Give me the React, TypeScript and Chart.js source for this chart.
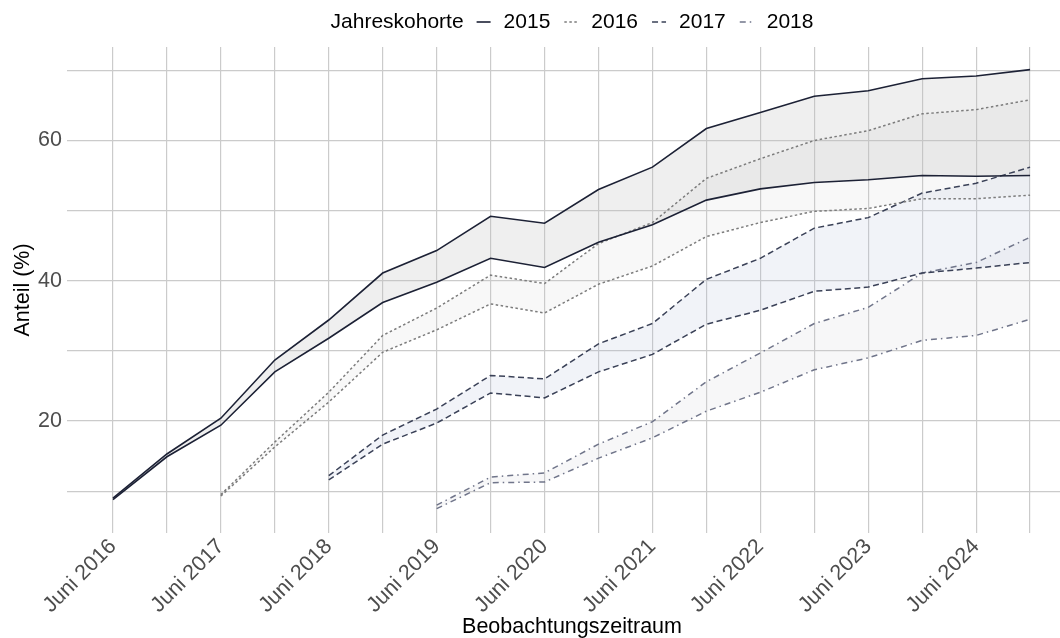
import React, { useEffect, useRef } from "react";
import { Chart, registerables } from "chart.js";

Chart.register(...registerables);

const FONT = '"Liberation Sans", Arial, Helvetica, sans-serif';

// Half-year observation points: index 0 = Juni 2016 ... 17 = Dezember 2024
const xTickLabels = [
  "Juni 2016", "", "Juni 2017", "", "Juni 2018", "", "Juni 2019", "",
  "Juni 2020", "", "Juni 2021", "", "Juni 2022", "", "Juni 2023", "",
  "Juni 2024", "",
];
const yTickLabels = [20, 40, 60];

const cohorts = ["2015", "2016", "2017", "2018"];

const upper2015 = [9.0, 15.3, 20.4, 28.7, 34.4, 41.1, 44.3, 49.2, 48.2, 53.0, 56.2, 61.7, 64.0, 66.3, 67.1, 68.8, 69.2, 70.1];
const lower2015 = [8.8, 14.9, 19.4, 27.0, 31.8, 36.9, 39.8, 43.2, 41.9, 45.5, 48.0, 51.5, 53.1, 54.0, 54.4, 55.0, 54.9, 55.0];

const upper2016 = [null, null, 9.5, 17.0, 24.1, 32.2, 36.1, 40.8, 39.6, 45.3, 48.3, 54.6, 57.4, 60.0, 61.4, 63.8, 64.4, 65.8];
const lower2016 = [null, null, 9.3, 16.3, 22.7, 29.8, 33.0, 36.7, 35.4, 39.5, 42.1, 46.3, 48.3, 49.9, 50.3, 51.7, 51.7, 52.2];

const upper2017 = [null, null, null, null, 12.2, 18.0, 21.7, 26.5, 26.0, 31.0, 33.9, 40.2, 43.2, 47.5, 49.0, 52.5, 53.9, 56.2];
const lower2017 = [null, null, null, null, 11.6, 16.7, 19.7, 24.0, 23.3, 27.0, 29.5, 33.8, 35.8, 38.5, 39.1, 41.1, 41.8, 42.6];

const upper2018 = [null, null, null, null, null, null, 8.0, 12.0, 12.6, 16.7, 19.9, 25.6, 29.7, 33.9, 36.2, 41.1, 42.6, 46.2];
const lower2018 = [null, null, null, null, null, null, 7.5, 11.2, 11.3, 14.7, 17.6, 21.4, 24.1, 27.3, 29.0, 31.5, 32.2, 34.5];

const lineColors = ["#1c2135", "#7c7c7c", "#3a4157", "#70758a"];
const fillColors = [
  "rgba(190,190,190,0.24)",
  "rgba(200,200,200,0.13)",
  "rgba(170,180,212,0.16)",
  "rgba(200,200,208,0.15)",
];
const lineWidths = [1.6, 1.5, 1.5, 1.5];
const dashes: number[][] = [[], [2.5, 2.5], [6, 3.5], [6, 4, 1.5, 4]];

const bandUpper = [upper2015, upper2016, upper2017, upper2018];
const bandLower = [lower2015, lower2016, lower2017, lower2018];

function toPoints(arr: (number | null)[]) {
  const pts: { x: number; y: number }[] = [];
  arr.forEach((v, i) => {
    if (v !== null) pts.push({ x: i, y: v });
  });
  return pts;
}

const legendPlugin = {
  id: "cohortLegend",
  afterDraw(chart: any) {
    const ctx = chart.ctx as CanvasRenderingContext2D;
    const area = chart.chartArea;
    ctx.save();
    ctx.font = `21px ${FONT}`;
    ctx.textBaseline = "middle";
    ctx.fillStyle = "#000";
    const title = "Jahreskohorte";
    const keyW = 14;
    const keyGap = 13;
    const itemGap = 14;
    const titleGap = 13;
    const titleW = ctx.measureText(title).width;
    const textWs = cohorts.map((c) => ctx.measureText(c).width);
    let total = titleW + titleGap;
    textWs.forEach((w, i) => {
      total += keyW + keyGap + w + (i < textWs.length - 1 ? itemGap : 0);
    });
    const cx = (area.left + area.right) / 2;
    let x = cx - total / 2;
    const y = 22;
    ctx.textAlign = "left";
    ctx.fillText(title, x, y);
    x += titleW + titleGap;
    cohorts.forEach((c, i) => {
      ctx.save();
      ctx.strokeStyle = lineColors[i];
      ctx.lineWidth = lineWidths[i];
      ctx.setLineDash(dashes[i]);
      ctx.beginPath();
      ctx.moveTo(x, y);
      ctx.lineTo(x + keyW, y);
      ctx.stroke();
      ctx.restore();
      x += keyW + keyGap;
      ctx.fillStyle = "#000";
      ctx.fillText(c, x, y);
      x += textWs[i] + itemGap;
    });
    ctx.restore();
  },
};

export default function App() {
  const canvasRef = useRef<HTMLCanvasElement | null>(null);

  useEffect(() => {
    if (!canvasRef.current) return;
    const datasets: any[] = [];
    cohorts.forEach((c, i) => {
      datasets.push({
        label: `${c} oben`,
        data: toPoints(bandUpper[i]),
        borderColor: lineColors[i],
        borderWidth: lineWidths[i],
        borderDash: dashes[i],
        backgroundColor: fillColors[i],
        fill: "+1",
        pointRadius: 0,
        tension: 0,
      });
      datasets.push({
        label: `${c} unten`,
        data: toPoints(bandLower[i]),
        borderColor: lineColors[i],
        borderWidth: lineWidths[i],
        borderDash: dashes[i],
        backgroundColor: fillColors[i],
        fill: false,
        pointRadius: 0,
        tension: 0,
      });
    });

    const chart = new Chart(canvasRef.current, {
      type: "line",
      data: { datasets },
      plugins: [legendPlugin],
      options: {
        responsive: false,
        animation: false,
        devicePixelRatio: 1,
        layout: { padding: { top: 47, left: 0, right: 0, bottom: 0 } },
        plugins: {
          legend: { display: false },
          tooltip: { enabled: false },
          filler: { drawTime: "beforeDatasetsDraw" } as any,
        },
        scales: {
          x: {
            type: "linear",
            min: -0.852,
            max: 17.87,
            border: { display: false },
            grid: { color: "#cbcbcb", lineWidth: 1.2, drawTicks: false },
            ticks: {
              stepSize: 1,
              includeBounds: false,
              autoSkip: false,
              maxTicksLimit: 100,
              minRotation: 45,
              maxRotation: 45,
              padding: -2,
              color: "#4d4d4d",
              font: { family: FONT, size: 21.5, lineHeight: 1.6 },
              callback: (v: any) => {
                const i = Math.round(Number(v));
                return xTickLabels[i] ?? "";
              },
            },
            title: {
              display: true,
              text: "Beobachtungszeitraum",
              color: "#000",
              font: { family: FONT, size: 21.5, lineHeight: 1 },
              padding: { top: 0, bottom: 0 },
            },
            afterFit: (s: any) => {
              s.height = 105;
            },
          },
          y: {
            type: "linear",
            min: 4.03,
            max: 73.33,
            border: { display: false },
            grid: { color: "#cbcbcb", lineWidth: 1.2, drawTicks: false },
            ticks: {
              stepSize: 10,
              includeBounds: false,
              maxTicksLimit: 100,
              padding: 5,
              color: "#4d4d4d",
              font: { family: FONT, size: 21.5, lineHeight: 1 },
              callback: (v: any) => (yTickLabels.includes(Number(v)) ? String(v) : ""),
            },
            title: {
              display: true,
              text: "Anteil (%)",
              color: "#000",
              font: { family: FONT, size: 21.5, lineHeight: 1 },
              padding: { top: 12.5, bottom: 0 },
            },
            afterFit: (s: any) => {
              s.width = 67;
            },
          },
        },
      },
    });
    return () => chart.destroy();
  }, []);

  return (
    <div
      style={{
        position: "fixed",
        left: 0,
        top: 0,
        width: 1060,
        height: 638,
        overflow: "hidden",
        background: "#fff",
      }}
    >
      <canvas ref={canvasRef} width={1077} height={638} style={{ display: "block", width: 1077, height: 638 }} />
    </div>
  );
}
